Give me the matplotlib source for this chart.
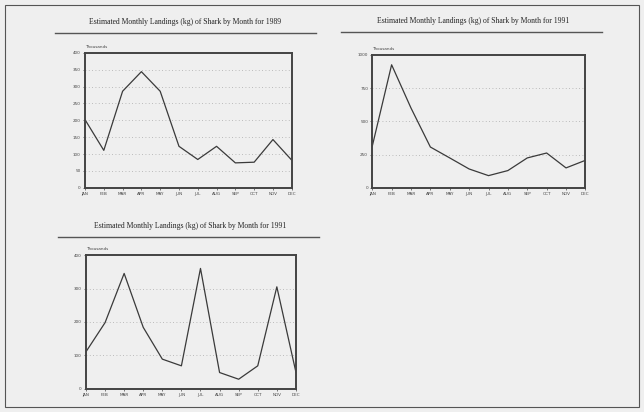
import matplotlib
matplotlib.use("Agg")
import matplotlib.pyplot as plt
from matplotlib.lines import Line2D
from matplotlib.patches import Rectangle

months = ["JAN", "FEB", "MAR", "APR", "MAY", "JUN", "JUL", "AUG", "SEP", "OCT", "NOV", "DEC"]

title_1 = "Estimated Monthly Landings (kg) of Shark by Month for 1989"
title_2 = "Estimated Monthly Landings (kg) of Shark by Month for 1991"
title_3 = "Estimated Monthly Landings (kg) of Shark by Month for 1991"

landings_1 = [202, 111, 286, 344, 286, 123, 84, 123, 74, 76, 143, 82]
landings_2 = [312, 925, 600, 307, 225, 142, 92, 130, 225, 262, 150, 207]
landings_3 = [111, 198, 345, 184, 89, 69, 360, 49, 29, 69, 305, 50]

yticks_1 = [0, 50, 100, 150, 200, 250, 300, 350, 400]
yticks_2 = [0, 250, 500, 750, 1000]
yticks_3 = [0, 100, 200, 300, 400]

unit_label = "Thousands"

bg = "#efefef"
ink = "#3a3a3a"

fig = plt.figure(figsize=(6.44, 4.12), dpi=100, facecolor=bg)

# page border of the scanned sheet
fig.patches.append(Rectangle((0.008, 0.012), 0.984, 0.976, transform=fig.transFigure,
                             fill=False, edgecolor="#555555", linewidth=0.8))

def panel(rect, values, yticks, title, title_xy, line_x):
    ax = fig.add_axes(rect)
    ax.set_facecolor(bg)
    x = list(range(len(months)))
    ax.plot(x, values, color=ink, linewidth=0.9)
    ax.set_xlim(0, len(months) - 1)
    ax.set_ylim(yticks[0], yticks[-1])
    ax.set_xticks(x)
    ax.set_xticklabels(months, fontsize=3, color="#444444")
    ax.set_yticks(yticks)
    ax.set_yticklabels([str(t) for t in yticks], fontsize=3, color="#444444")
    ax.tick_params(length=1.5, width=0.5, pad=1.5, colors="#444444")
    for t in yticks[1:-1]:
        ax.axhline(t, color="#aaaaaa", linestyle=(0, (1, 3)), linewidth=0.6, zorder=0)
    for s in ax.spines.values():
        s.set_color("#444444")
        s.set_linewidth(1.4)
    ax.text(0.0, 1.03, unit_label, transform=ax.transAxes, fontsize=3, color="#444444",
            ha="left", va="bottom")
    fig.text(title_xy[0], title_xy[1], title, fontsize=5.5, color="#222222",
             ha="center", va="center", family="Liberation Serif")
    fig.lines.append(Line2D([line_x[0], line_x[1]], [title_xy[1] - 0.028, title_xy[1] - 0.028],
                            transform=fig.transFigure, color="#555555", linewidth=1.0))
    return ax

panel([0.132, 0.544, 0.321, 0.328], landings_1, yticks_1, title_1,
      (0.288, 0.947), (0.085, 0.49))
panel([0.578, 0.544, 0.331, 0.323], landings_2, yticks_2, title_2,
      (0.735, 0.950), (0.53, 0.935))
panel([0.1335, 0.056, 0.326, 0.325], landings_3, yticks_3, title_3,
      (0.295, 0.452), (0.09, 0.495))

fig.savefig("out.png", dpi=100, facecolor=bg)
